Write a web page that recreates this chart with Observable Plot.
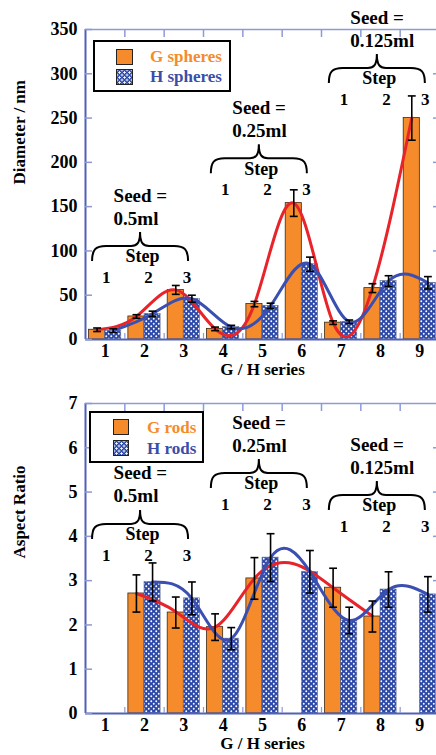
<!DOCTYPE html>
<html>
<head>
<meta charset="utf-8">
<script src="https://cdn.jsdelivr.net/npm/d3@7"></script>
<script src="https://cdn.jsdelivr.net/npm/@observablehq/plot@0.6"></script>
<style>
  html, body { margin: 0; padding: 0; background: #fff; overflow: hidden; }
  #wrap { position: relative; width: 440px; font-family: "Liberation Serif", "Times New Roman", serif; font-weight: bold; }
  #wrap svg { display: block; }
  .legend { position: absolute; border: 2px solid #000; box-sizing: border-box; background: #fff; }
  .sw { position: absolute; box-sizing: border-box; border: 1px solid #222; }
  .sw.g { background: #f58b2b; }
  .sw.h { background-color: #2d49a8;
    background-image: radial-gradient(circle, #fff 0.9px, transparent 1.3px), radial-gradient(circle, #fff 0.9px, transparent 1.3px);
    background-size: 5px 5px; background-position: 0 0, 2.5px 2.5px; }
  .lt { position: absolute; font-size: 17px; line-height: 20px; white-space: nowrap; }
</style>
</head>
<body>
<div id="wrap"></div>
<script>
// ---------- data ----------
const categories = [1, 2, 3, 4, 5, 6, 7, 8, 9];
const boundaries = [1.5, 2.5, 3.5, 4.5, 5.5, 6.5, 7.5, 8.5];

const sphereG    = [11, 26, 56, 12, 40, 154, 19, 58, 250];
const sphereGErr = [2, 2, 5, 2, 3, 15, 2, 5, 25];
const sphereH    = [10, 29, 46, 14, 38, 85, 20, 66, 64];
const sphereHErr = [2, 3, 4, 2, 3, 8, 2, 6, 7];
const sphereTicks = [0, 50, 100, 150, 200, 250, 300, 350];

const rodG    = [null, 2.71, 2.28, 1.95, 3.05, null, 2.84, 2.19, null];
const rodGErr = [null, 0.42, 0.35, 0.30, 0.47, null, 0.44, 0.35, null];
const rodH    = [null, 2.97, 2.60, 1.69, 3.52, 3.20, 2.10, 2.80, 2.69];
const rodHErr = [null, 0.43, 0.37, 0.25, 0.54, 0.48, 0.30, 0.40, 0.40];
const rodGTrend = [null, 2.71, 2.30, 1.95, 3.05, 3.38, 2.84, 2.20, null];
const rodTicks = [0, 1, 2, 3, 4, 5, 6, 7];

const seedLabels = ["0.5ml", "0.25ml", "0.125ml"];
const braceX = [1.9, 4.92, 7.92];
const braceYSphere = [105, 204, 306];
const braceYRod = [4.27, 5.42, 4.92];
const stepX = [1.03, 2.1, 3.08, 4.05, 5.13, 6.12, 7.07, 8.15, 9.14];
const stepLabels = ["1", "2", "3", "1", "2", "3", "1", "2", "3"];

// ---------- style ----------
const ORANGE = "#f58b2b";
const RED = "#e8242a";
const BLUE_LINE = "#3a4fb0";
const AXIS = "#4f62b8";
const AXIS_LIGHT = "#8d9ad6";
const BW = 0.41;           // bar width in category units
const OFF = BW / 2;        // bar centre offset

function brace(xs, ys) {
  return (index, scales) => {
    const g = d3.create("svg:g");
    xs.forEach((bx, i) => {
      const cx = scales.x(bx), cy = scales.y(ys[i]), hw = 48;
      const p = `M${cx-hw},${cy+15} C${cx-hw},${cy+4} ${cx-hw+3},${cy} ${cx-hw+14},${cy} L${cx-9},${cy} C${cx-3},${cy} ${cx},${cy-3} ${cx},${cy-14} C${cx},${cy-3} ${cx+3},${cy} ${cx+9},${cy} L${cx+hw-14},${cy} C${cx+hw-3},${cy} ${cx+hw},${cy+4} ${cx+hw},${cy+15}`;
      g.append("path").attr("d", p).attr("fill", "none").attr("stroke", "#000").attr("stroke-width", 2);
    });
    return g.node();
  };
}

function panel(o) {
  const rows = categories.map((c, i) => ({
    c, g: o.G[i], ge: o.GErr[i], h: o.H[i], he: o.HErr[i],
    gt: o.GTrend[i], ht: o.HTrend[i]
  }));
  const gRows = rows.filter(d => d.g != null);
  const hRows = rows.filter(d => d.h != null);
  const gTrend = rows.filter(d => d.gt != null);
  const hTrend = rows.filter(d => d.ht != null);
  const yMax = o.ticks[o.ticks.length - 1];
  const groups = seedLabels.map((s, i) => ({ s, x: braceX[i], y: o.braceY[i] }));
  const steps = stepX.map((x, i) => ({ x, t: stepLabels[i], y: o.braceY[Math.floor(i / 3)] }));
  const errs = [
    ...gRows.map(d => ({ x: d.c - OFF, v: d.g, e: d.ge })),
    ...hRows.map(d => ({ x: d.c + OFF, v: d.h, e: d.he }))
  ];

  const svg = Plot.plot({
    width: 440, height: o.height,
    marginLeft: 85, marginRight: 1, marginTop: o.marginTop, marginBottom: o.marginBottom,
    style: { fontFamily: '"Liberation Serif", "Times New Roman", serif', fontWeight: "bold", fontSize: "18px", color: "#000", background: "#fff", overflow: "visible" },
    x: { domain: [0.5, 9.5], label: null },
    y: { domain: [0, yMax], label: null },
    marks: [
      // bars
      Plot.rect(gRows, { x1: d => d.c - BW, x2: d => d.c, y1: 0, y2: "g", fill: ORANGE, stroke: "#3b2a14", strokeWidth: 0.8 }),
      Plot.rect(hRows, { x1: d => d.c, x2: d => d.c + BW, y1: 0, y2: "h", fill: `url(#${o.pid})`, stroke: "#6a7290", strokeWidth: 0.6 }),
      // trend curves
      Plot.line(gTrend, { x: d => d.c - OFF, y: "gt", curve: "natural", stroke: RED, strokeWidth: 3 }),
      Plot.line(hTrend, { x: d => d.c + OFF, y: "ht", curve: "natural", stroke: BLUE_LINE, strokeWidth: 3 }),
      // error bars
      Plot.link(errs, { x1: "x", x2: "x", y1: d => d.v - d.e, y2: d => d.v + d.e, stroke: "#000", strokeWidth: 1.6 }),
      Plot.link(errs, { x1: d => d.x - 0.1, x2: d => d.x + 0.1, y1: d => d.v + d.e, y2: d => d.v + d.e, stroke: "#000", strokeWidth: 1.6 }),
      Plot.link(errs, { x1: d => d.x - 0.1, x2: d => d.x + 0.1, y1: d => d.v - d.e, y2: d => d.v - d.e, stroke: "#000", strokeWidth: 1.6 }),
      // frame lines
      Plot.ruleY([yMax], { stroke: AXIS_LIGHT, strokeWidth: 1.5 }),
      Plot.ruleX([9.5], { stroke: AXIS_LIGHT, strokeWidth: 1.5 }),
      Plot.ruleX([0.5], { stroke: AXIS, strokeWidth: 2 }),
      Plot.ruleY([0], { stroke: AXIS, strokeWidth: 2 }),
      // axes
      Plot.axisY(o.ticks, { anchor: "left", tickSize: -7, tickPadding: 15, stroke: AXIS_LIGHT, strokeWidth: 1.5, fontSize: 18, label: null }),
      Plot.axisY(o.ticks.slice(1, -1), { anchor: "right", tickSize: -7, tickFormat: () => "", stroke: AXIS_LIGHT, strokeWidth: 1.5, label: null }),
      Plot.axisX(boundaries, { anchor: "top", tickSize: -7, tickFormat: () => "", stroke: AXIS_LIGHT, strokeWidth: 1.5, label: null }),
      Plot.axisX(boundaries, { anchor: "bottom", tickSize: -6, tickFormat: () => "", stroke: AXIS_LIGHT, strokeWidth: 1.2, label: null }),
      Plot.axisX(categories, { anchor: "bottom", tickSize: 0, tickPadding: 5, fontSize: 18, label: null }),
      // axis titles
      Plot.text([o.yLabel], { text: d => d, frameAnchor: "left", rotate: -90, dx: -66, fontSize: 17 }),
      Plot.text(["G / H series"], { text: d => d, frameAnchor: "bottom", dy: 35, fontSize: 17 }),
      // annotations
      Plot.text(groups, { x: "x", y: "y", text: () => "Seed =", dx: -27, dy: -51, textAnchor: "start", fontSize: 19 }),
      Plot.text(groups, { x: "x", y: "y", text: "s", dx: -27, dy: -28, textAnchor: "start", fontSize: 19 }),
      Plot.text(groups, { x: "x", y: "y", text: () => "Step", dx: 2, dy: 10, fontSize: 18 }),
      Plot.text(steps, { x: "x", y: "y", text: "t", dy: 31, fontSize: 17 }),
      brace(braceX, o.braceY)
    ]
  });
  const defs = `<defs><pattern id="${o.pid}" patternUnits="userSpaceOnUse" width="5" height="5">
      <rect width="5" height="5" fill="#2d49a8"/>
      <circle cx="1.25" cy="1.25" r="0.95" fill="#fff"/>
      <circle cx="3.75" cy="3.75" r="0.95" fill="#fff"/></pattern></defs>`;
  svg.insertAdjacentHTML("afterbegin", defs);
  return svg;
}

const wrap = document.getElementById("wrap");
wrap.appendChild(panel({
  G: sphereG, GErr: sphereGErr, H: sphereH, HErr: sphereHErr,
  GTrend: sphereG, HTrend: sphereH, ticks: sphereTicks,
  yLabel: "Diameter / nm", braceY: braceYSphere,
  height: 380, marginTop: 29, marginBottom: 41, pid: "dotsA"
}));
wrap.appendChild(panel({
  G: rodG, GErr: rodGErr, H: rodH, HErr: rodHErr,
  GTrend: rodGTrend, HTrend: rodH, ticks: rodTicks,
  yLabel: "Aspect Ratio", braceY: braceYRod,
  height: 375, marginTop: 23, marginBottom: 42, pid: "dotsB"
}));

// legends
function legend(box, sw, texts) {
  const d = document.createElement("div");
  d.className = "legend";
  Object.assign(d.style, { left: box[0] + "px", top: box[1] + "px", width: box[2] + "px", height: box[3] + "px" });
  wrap.appendChild(d);
  const add = (cls, l, t, w, h) => { const e = document.createElement("div"); e.className = "sw " + cls;
    Object.assign(e.style, { left: l + "px", top: t + "px", width: w + "px", height: h + "px" }); wrap.appendChild(e); };
  add("g", sw[0], sw[1], sw[2], sw[3]);
  add("h", sw[0], sw[4], sw[2], sw[3]);
  texts.forEach(([txt, col, l, t]) => { const e = document.createElement("div"); e.className = "lt"; e.textContent = txt;
    Object.assign(e.style, { left: l + "px", top: t + "px", color: col }); wrap.appendChild(e); });
}
legend([93, 40, 138, 52], [116, 49, 17, 16, 69], [["G spheres", ORANGE, 150, 47], ["H spheres", "#3a4ea8", 150, 67]]);
legend([89, 411, 115, 52], [113, 419, 16, 16, 440], [["G rods", ORANGE, 147, 418], ["H rods", "#3a4ea8", 147, 439]]);
</script>
</body>
</html>
